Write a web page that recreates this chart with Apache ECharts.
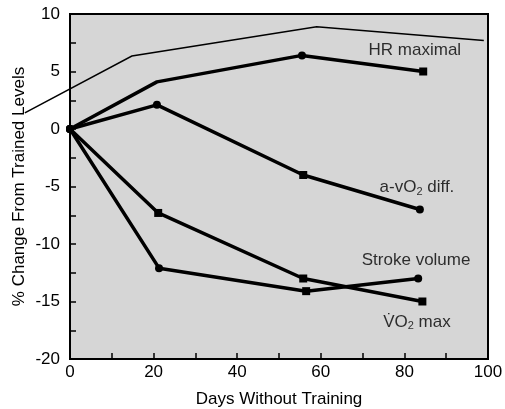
<!DOCTYPE html>
<html>
<head>
<meta charset="utf-8">
<script src="https://cdn.jsdelivr.net/npm/echarts@6/dist/echarts.min.js"></script>
<style>html,body{margin:0;padding:0;background:#fff}#c{width:505px;height:409px}</style>
</head>
<body>
<div id="c"></div>
<script>
// ---- data ----
const hrThinDays = [-10.8, 14.8, 59, 99];
const hrThinVals = [1.4, 6.35, 8.9, 7.7];
const hrDays = [0, 20.8, 55.5, 84.5];
const hrVals = [0, 4.1, 6.4, 5.0];
const avDays = [0, 20.8, 55.8, 83.7];
const avVals = [0, 2.1, -4.0, -7.0];
const vo2Days = [0, 21.1, 55.8, 84.3];
const vo2Vals = [0, -7.3, -13.0, -15.0];
const svDays = [0, 21.3, 56.5, 83.3];
const svVals = [0, -12.1, -14.1, -13.0];
const labelNames = ['hr', 'av', 'sv', 'vo2'];
const labelDays = [82.5, 83.0, 82.8, 83.0];
const labelVals = [6.8, -5.1, -11.4, -16.8];
const xTitle = 'Days Without Training';
const yTitle = '% Change From Trained Levels';

const FONT = "'Liberation Sans', Arial, sans-serif";
const pairs = (xs, ys) => xs.map((x, i) => [x, ys[i]]);
function thick(xs, ys, syms) {
  return {
    type: 'line', clip: false, silent: true,
    data: xs.map((x, i) => ({ value: [x, ys[i]], symbol: syms[i] })),
    symbolSize: 8,
    lineStyle: { color: '#000', width: 3.5 },
    itemStyle: { color: '#000' },
    z: 3
  };
}
const labelTexts = {
  hr: '{t|HR maximal}',
  av: '{t|a-vO}{s|2}{t| diff.}',
  sv: '{t|Stroke volume}',
  vo2: '{t|V\u0307O}{s|2}{t| max}'
};
const thinData = pairs(hrThinDays, hrThinVals);

const chart = echarts.init(document.getElementById('c'), null, { renderer: 'canvas' });
chart.setOption({
  animation: false,
  backgroundColor: '#fff',
  textStyle: { fontFamily: FONT },
  grid: {
    left: 70, top: 14, right: 17, bottom: 50,
    outerBoundsMode: 'none', containLabel: false,
    show: true, backgroundColor: '#d6d6d6', borderColor: '#000', borderWidth: 2
  },
  xAxis: {
    type: 'value', min: 0, max: 100, interval: 20,
    name: xTitle, nameLocation: 'middle', nameGap: 32, nameMoveOverlap: false,
    nameTextStyle: { color: '#000', fontSize: 17, fontFamily: FONT },
    axisLine: { show: true, onZero: false, lineStyle: { color: '#000', width: 2 } },
    axisTick: { show: true, inside: true, length: 6, lineStyle: { color: '#000', width: 1.5 } },
    minorTick: { show: true, splitNumber: 2, length: 6, lineStyle: { color: '#000', width: 1.5 } },
    axisLabel: { color: '#000', fontSize: 17, margin: 5, fontFamily: FONT },
    splitLine: { show: false }
  },
  yAxis: {
    type: 'value', min: -20, max: 10, interval: 5,
    name: yTitle, nameLocation: 'middle', nameGap: 42, nameRotate: 90, nameMoveOverlap: false,
    nameTextStyle: { color: '#000', fontSize: 17, fontFamily: FONT },
    axisLine: { show: true, onZero: false, lineStyle: { color: '#000', width: 2 } },
    axisTick: { show: true, inside: true, length: 6, lineStyle: { color: '#000', width: 1.5 } },
    minorTick: { show: true, splitNumber: 2, length: 6, lineStyle: { color: '#000', width: 1.5 } },
    axisLabel: { color: '#000', fontSize: 17, margin: 10, fontFamily: FONT },
    splitLine: { show: false }
  },
  series: [
    {
      type: 'custom', silent: true, clip: false,
      data: thinData,
      renderItem: function (params, api) {
        if (params.dataIndex !== 0) return null;
        const pts = thinData.map(d => api.coord(d));
        return {
          type: 'polyline',
          shape: { points: pts },
          style: { stroke: '#000', lineWidth: 1.5, fill: null }
        };
      },
      z: 3
    },
    thick(hrDays, hrVals, ['circle', 'none', 'circle', 'rect']),
    thick(avDays, avVals, ['circle', 'circle', 'rect', 'circle']),
    thick(vo2Days, vo2Vals, ['circle', 'rect', 'rect', 'rect']),
    thick(svDays, svVals, ['circle', 'circle', 'rect', 'circle']),
    {
      type: 'scatter', silent: true, symbolSize: 0,
      data: labelNames.map((n, i) => ({ name: n, value: [labelDays[i], labelVals[i]] })),
      label: {
        show: true, position: 'inside',
        formatter: p => labelTexts[p.name],
        rich: {
          t: { color: '#000', fontSize: 17, fontFamily: FONT },
          s: { color: '#000', fontSize: 11, fontFamily: FONT, verticalAlign: 'bottom', padding: [8, 0, 0, 0] }
        }
      },
      z: 5
    }
  ]
});
</script>
</body>
</html>
